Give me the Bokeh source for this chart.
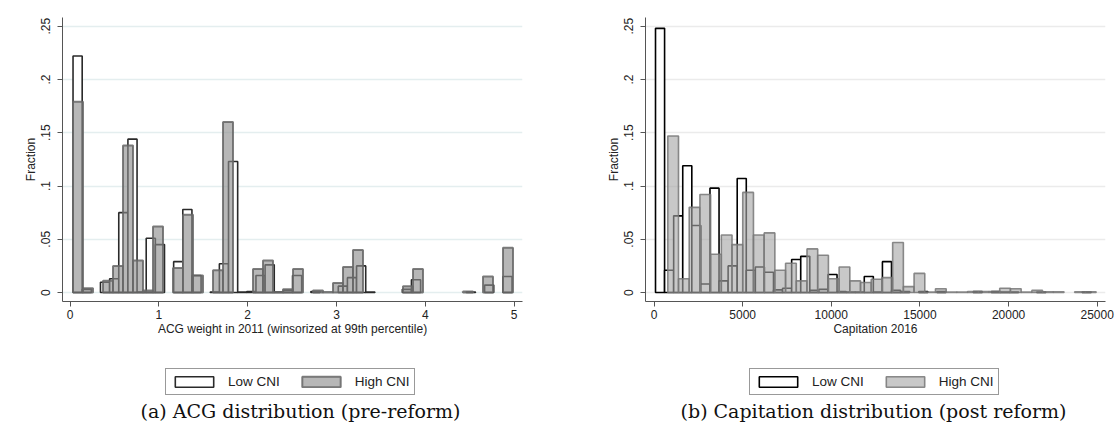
import numpy as np
from bokeh.plotting import figure
from bokeh.models import Range1d, FixedTicker, Legend, LegendItem, Label
from bokeh.layouts import row, column
from bokeh.embed import file_html
from bokeh.resources import INLINE

# ---------------- data: panel (a) ACG weight 2011 ----------------
acg_bin_start = 0.033
acg_low_width = 0.1030
acg_high_width = 0.1126
acg_low = [0.222, 0.003, 0, 0.0097, 0.013, 0.075, 0.144, 0.0005, 0.051, 0.045,
           0, 0.029, 0.078, 0.016, 0, 0.0005, 0.027, 0.123, 0.0005, 0.001,
           0.016, 0.026, 0.0005, 0.002, 0.016, 0, 0.001, 0, 0, 0.006,
           0.014, 0.025, 0.0005, 0, 0, 0, 0.003, 0.012, 0, 0,
           0, 0, 0, 0.0005, 0, 0.007, 0, 0.015]
acg_high = [0.179, 0.004, 0, 0.011, 0.025, 0.138, 0.030, 0.002, 0.062, 0,
            0.023, 0.073, 0.016, 0, 0.021, 0.160, 0, 0, 0.022, 0.030,
            0.0005, 0.003, 0.022, 0, 0.002, 0.0005, 0.009, 0.024, 0.040, 0,
            0, 0, 0, 0.006, 0.022, 0, 0, 0, 0, 0.001,
            0, 0.015, 0, 0.042]
acg_xticks = [0, 1, 2, 3, 4, 5]

# ---------------- data: panel (b) Capitation 2016 ----------------
cap_low_start = 85
cap_low_width = 512
cap_high_start = 778
cap_high_width = 604
cap_low = [0.248, 0.021, 0.072, 0.119, 0.063, 0.008, 0.098, 0.011, 0.025, 0.107,
           0.021, 0.024, 0.019, 0.0025, 0.004, 0.031, 0.034, 0.002, 0.003, 0.017,
           0.001, 0.0005, 0.0005, 0.015, 0.0005, 0.029, 0.002, 0.001, 0, 0.001,
           0, 0.001, 0, 0, 0, 0.001, 0, 0.001, 0.0005, 0.0005,
           0, 0, 0.0005, 0, 0, 0, 0, 0.0005]
cap_high = [0.147, 0.013, 0.080, 0.092, 0.036, 0.054, 0.045, 0.094, 0.054, 0.056,
            0.021, 0.0275, 0.011, 0.041, 0.035, 0.013, 0.024, 0.011, 0.0094, 0.0125,
            0.014, 0.047, 0.0056, 0.018, 0.0005, 0.0035, 0.0005, 0.0005, 0.001, 0.001,
            0.001, 0.004, 0.0035, 0.0005, 0.002, 0.0007, 0.0007, 0, 0.0007, 0.0007]
cap_xticks = [0, 5000, 10000, 15000, 20000, 25000]

y_ticks = [0, 0.05, 0.1, 0.15, 0.2, 0.25]
y_tick_labels = ["0", ".05", ".1", ".15", ".2", ".25"]
series_names = ["Low CNI", "High CNI"]
captions = ["(a) ACG distribution (pre-reform)",
            "(b) Capitation distribution (post reform)"]

FONT = "Liberation Sans"
TOP_H = 338
BOT_H = 84


def bins(start, width, heights):
    h = np.asarray(heights, dtype=float)
    left = start + width * np.arange(len(h))
    keep = h > 0
    return dict(left=left[keep], right=(left + width)[keep], top=h[keep])


def style_low(line):
    return dict(fill_color="white", line_color=line, line_width=1.6)


def style_high(fill, line, lw):
    return dict(fill_color=fill, fill_alpha=0.62, line_color=line, line_alpha=0.85,
                line_width=lw)


def panel(x_range, xticks, xlabel, low, high, grid_color, s_low, s_high,
          width, border_left, border_right):
    p = figure(width=width, height=TOP_H, min_border_left=border_left,
               min_border_right=border_right, min_border_top=17,
               min_border_bottom=TOP_H - 17 - 285,
               x_range=Range1d(*x_range), y_range=Range1d(-0.0084, 0.2582),
               output_backend="svg", toolbar_location=None)
    p.outline_line_color = None
    p.background_fill_color = "white"
    p.border_fill_color = "white"

    p.quad(left="left", right="right", top="top", bottom=0, source=low, **s_low)
    p.quad(left="left", right="right", top="top", bottom=0, source=high, **s_high)

    p.xgrid.visible = False
    p.ygrid.ticker = FixedTicker(ticks=y_ticks)
    p.ygrid.grid_line_color = grid_color
    p.ygrid.grid_line_width = 1.5

    xa = p.xaxis[0]
    xa.ticker = FixedTicker(ticks=xticks)
    xa.axis_label = xlabel
    ya = p.yaxis[0]
    ya.ticker = FixedTicker(ticks=y_ticks)
    ya.major_label_overrides = {t: l for t, l in zip(y_ticks, y_tick_labels)}
    ya.axis_label = "Fraction"
    ya.major_label_orientation = "vertical"
    for ax in (xa, ya):
        ax.axis_line_color = "#555555"
        ax.major_tick_line_color = "#555555"
        ax.major_tick_out = 5
        ax.major_tick_in = 0
        ax.minor_tick_line_color = None
        ax.major_label_text_font = FONT
        ax.major_label_text_font_size = "12px"
        ax.major_label_text_color = "#222222"
        ax.axis_label_text_font = FONT
        ax.axis_label_text_font_size = "12px"
        ax.axis_label_text_font_style = "normal"
        ax.axis_label_text_color = "#222222"
    xa.major_label_standoff = 3
    xa.axis_label_standoff = 0
    ya.major_label_standoff = 7
    ya.axis_label_standoff = 1
    return p


def legend_box(width, low, high, s_low, s_high, legend_x, caption, caption_x):
    q = figure(width=width, height=BOT_H, min_border=0,
               x_range=Range1d(0, width), y_range=Range1d(0, BOT_H),
               output_backend="svg", toolbar_location=None)
    q.outline_line_color = None
    q.axis.visible = False
    q.grid.visible = False
    # legend keys: the two series, drawn only as legend swatches here
    r_low = q.quad(left="left", right="right", top="top", bottom=0, source=low,
                   visible=False, **s_low)
    r_high = q.quad(left="left", right="right", top="top", bottom=0, source=high,
                    visible=False, **s_high)
    legend = Legend(items=[LegendItem(label=series_names[0], renderers=[r_low]),
                           LegendItem(label=series_names[1], renderers=[r_high])],
                    orientation="horizontal", location=(legend_x, BOT_H - 32 - 25),
                    border_line_color="#333333", border_line_width=1,
                    glyph_width=48, glyph_height=13, label_standoff=10, spacing=17,
                    padding=4, margin=0, label_height=17, label_text_font=FONT,
                    label_text_font_size="13.5px", label_text_color="#222222",
                    label_text_baseline="middle")
    q.add_layout(legend, "center")
    q.add_layout(Label(x=caption_x, y=12, x_units="screen", y_units="screen",
                       text=caption, text_align="center", text_baseline="middle",
                       text_font="DejaVu Serif", text_font_size="19px",
                       text_color="#111111"))
    return q


s1_low = style_low("#2a2a2a")
s1_high = style_high("#8a8a8a", "#666666", 2.0)
s2_low = style_low("#000000")
s2_high = style_high("#a6a6a6", "#777777", 1.6)

acg_low_bins = bins(acg_bin_start, acg_low_width, acg_low)
acg_high_bins = bins(acg_bin_start, acg_high_width, acg_high)
cap_low_bins = bins(cap_low_start, cap_low_width, cap_low)
cap_high_bins = bins(cap_high_start, cap_high_width, cap_high)

p1 = panel((-0.0856, 5.0946), acg_xticks,
           "ACG weight in 2011 (winsorized at 99th percentile)",
           acg_low_bins, acg_high_bins, "#e4eeef", s1_low, s1_high, 590, 62, 68)
p2 = panel((-479.5, 25468), cap_xticks, "Capitation 2016",
           cap_low_bins, cap_high_bins, "#ebebeb", s2_low, s2_high, 525, 55, 10)
q1 = legend_box(590, acg_low_bins, acg_high_bins, s1_low, s1_high, 165,
                captions[0], 300)
q2 = legend_box(525, cap_low_bins, cap_high_bins, s2_low, s2_high, 159,
                captions[1], 283)

layout = column(row(p1, p2), row(q1, q2))
open("out.html", "w").write(file_html(layout, INLINE))
